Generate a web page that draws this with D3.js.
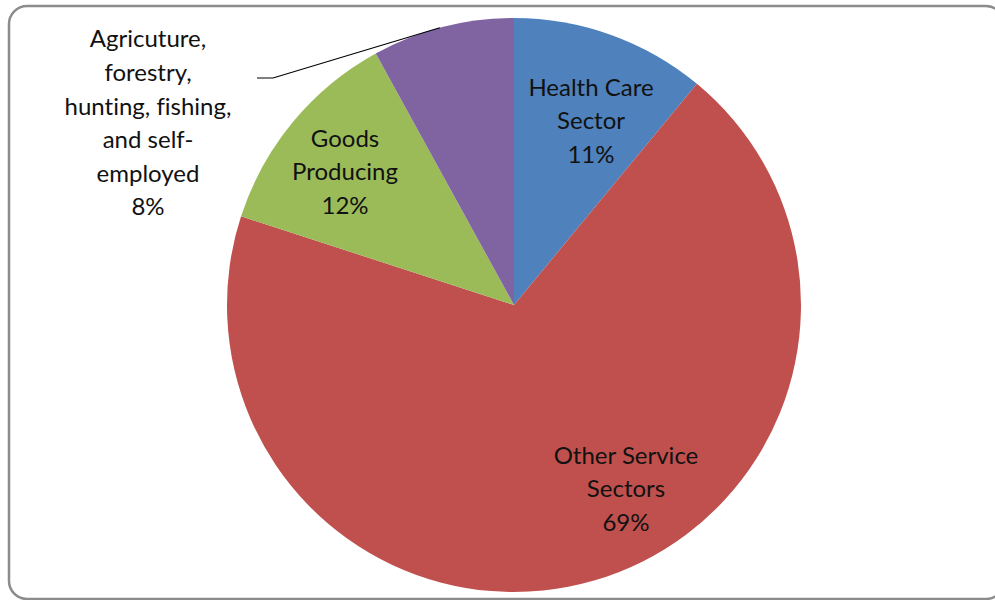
<!DOCTYPE html>
<html>
<head>
<meta charset="utf-8">
<script src="https://cdn.jsdelivr.net/npm/d3@7"></script>
<style>
  html, body { margin: 0; padding: 0; background: #fff; }
  svg { display: block; }
  text { font-variant-ligatures: none; font-feature-settings: "liga" 0; }
</style>
</head>
<body>
<div id="chart"></div>
<script>
// --------------------------------------
//  Data
// --------------------------------------

const sectors = ["Health Care Sector", "Other Service Sectors", "Goods Producing",
  "Agricuture, forestry, hunting, fishing, and self-employed"];
const shares = [11, 69, 12, 8];
const sectorColors = ["#4F81BD", "#C0504D", "#9BBB59", "#8064A2"];

// label lines as shown in the chart (text wrapped like the original)
const labelLines = [
  ["Health Care", "Sector", "11%"],
  ["Other Service", "Sectors", "69%"],
  ["Goods", "Producing", "12%"],
  ["Agricuture,", "forestry,", "hunting, fishing,", "and self-", "employed", "8%"]
];

// --------------------------------------
//  Canvas
// --------------------------------------

const width = 995;
const height = 600;
const cx = 514;
const cy = 305;
const radius = 287;

const svg = d3.select("#chart")
  .append("svg")
    .attr("width", width)
    .attr("height", height);

// chart frame with rounded corners
svg.append("rect")
    .attr("x", 9)
    .attr("y", 6)
    .attr("width", 995)
    .attr("height", 593)
    .attr("rx", 18)
    .attr("fill", "#fff")
    .attr("stroke", "#8c8c8c")
    .attr("stroke-width", 2.5);

const innerChart = svg.append("g")
    .attr("transform", `translate(${cx}, ${cy})`);

// --------------------------------------
//  Pie
// --------------------------------------

const data = sectors.map((s, i) => ({ name: s, value: shares[i], id: i }));

const color = d3.scaleOrdinal()
    .domain(sectors)
    .range(sectorColors);

const pie = d3.pie()
    .value(d => d.value)
    .sort(null);

const arc = d3.arc()
    .innerRadius(0)
    .outerRadius(radius);

const arcs = pie(data);

innerChart.selectAll("path.slice")
  .data(arcs)
  .join("path")
    .attr("class", "slice")
    .attr("d", arc)
    .attr("fill", d => color(d.data.name));

// --------------------------------------
//  Labels
// --------------------------------------

// label centres relative to pie centre (Excel style placement)
const labelPos = [
  [77, -184],
  [112, 184],
  [-169, -133],
  [-366, -182]
];
const lineH = 33.6;

// leader line for the small slice (outside label)
const agri = arcs[3];
const edgeAngle = agri.startAngle + (agri.endAngle - agri.startAngle) * 0.48;
const edge = [radius * Math.sin(edgeAngle), -radius * Math.cos(edgeAngle)];
innerChart.append("path")
    .attr("d", d3.line()([[-257, -227], [-241, -227], edge]))
    .attr("fill", "none")
    .attr("stroke", "#000")
    .attr("stroke-width", 1.2);

const labels = innerChart.selectAll("text.label")
  .data(arcs)
  .join("text")
    .attr("class", "label")
    .attr("font-family", "Lato, 'Open Sans', sans-serif")
    .attr("font-size", 24)
    .attr("fill", "#111")
    .attr("text-anchor", "middle");

labels.each(function(d, i) {
  const lines = labelLines[i];
  const [lx, ly] = labelPos[i];
  const top = ly - (lines.length - 1) * lineH / 2;
  d3.select(this).selectAll("tspan")
    .data(lines)
    .join("tspan")
      .attr("x", lx)
      .attr("y", (t, j) => top + j * lineH)
      .attr("dy", "0.35em")
      .text(t => t);
});
</script>
</body>
</html>
